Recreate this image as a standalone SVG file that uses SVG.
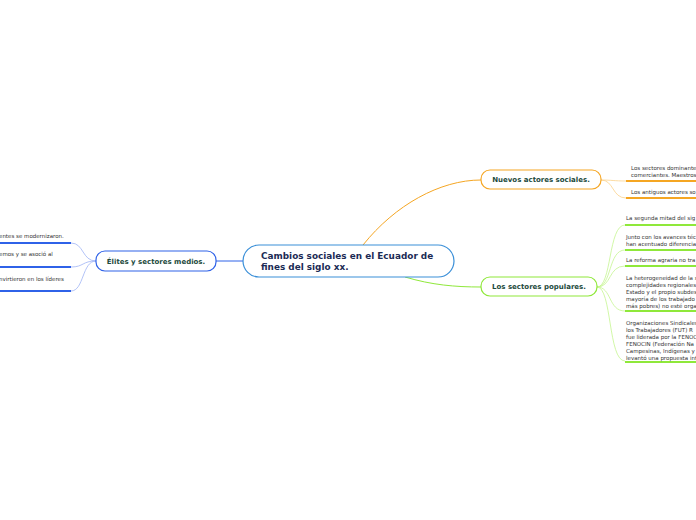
<svg xmlns="http://www.w3.org/2000/svg" width="696" height="520" viewBox="0 0 696 520">
<style>
.bg{fill:#fff}
.leaf{font-family:"DejaVu Sans",Verdana,sans-serif;font-size:5.5px;fill:#333}
.title{font-family:"DejaVu Sans",Verdana,sans-serif;font-size:7px;font-weight:bold;fill:#1d4a3c}
.ctitle{font-family:"DejaVu Sans",Verdana,sans-serif;font-size:8.9px;font-weight:bold;fill:#1b2b55}
.box{fill:#fff;stroke-width:1.2}
.c{fill:none}
.cb{stroke:#2f62e8;stroke-width:1}
.co{stroke:#f5a623;stroke-width:1}
.cg{stroke:#8fe83a;stroke-width:1}
.lb{stroke:#9fb4f5;stroke-width:0.8}
.lo{stroke:#fbd28a;stroke-width:0.8}
.lg{stroke:#c5f590;stroke-width:0.8}
.barb{stroke:#2f62e8;stroke-width:2}
.baro{stroke:#f5a623;stroke-width:2}
.barg{stroke:#8fe83a;stroke-width:2}
</style>
<rect class="bg" width="696" height="520"/>
<g id="connectors">
<path class="c cb" d="M243,261 L216,261"/>
<path class="c co" d="M363,245 C395,205 440,180 481,180"/>
<path class="c cg" d="M405,277 C432,285 455,287 481,287"/>
<path class="c lb" d="M96,261 C82,261 84,243 71,243"/>
<path class="c lb" d="M96,261 C82,261 84,267 71,267"/>
<path class="c lb" d="M96,261 C82,261 84,291 71,291"/>
<path class="c lo" d="M601,180 C612,180 614,181 626,181"/>
<path class="c lo" d="M601,180 C614,180 612,198 626,198"/>
<path class="c lg" d="M597,287 C612,287 608,225 625,225"/>
<path class="c lg" d="M597,287 C612,287 608,250 625,250"/>
<path class="c lg" d="M597,287 C612,287 608,266 625,266"/>
<path class="c lg" d="M597,287 C612,287 608,311 625,311"/>
<path class="c lg" d="M597,287 C612,287 608,361 625,361"/>
</g>
<g id="central">
<rect class="box" x="243" y="245" width="211" height="32" rx="16" stroke="#3a8fd8"/>
<text class="ctitle" x="261" y="259">Cambios sociales en el Ecuador de</text>
<text class="ctitle" x="261" y="270">fines del siglo xx.</text>
</g>
<g id="elites">
<rect class="box" x="96" y="251" width="120" height="20" rx="9" stroke="#2f62e8"/>
<text class="title" x="156" y="264" text-anchor="middle">Élites y sectores medios.</text>
</g>
<g id="elites-leaf1">
<path class="c barb" d="M0,243 H71"/>
<text class="leaf" x="-1" y="238">entes se modernizaron.</text>
</g>
<g id="elites-leaf2">
<path class="c barb" d="M0,267 H71"/>
<text class="leaf" x="-1" y="256">emos y se asoció al</text>
</g>
<g id="elites-leaf3">
<path class="c barb" d="M0,291 H71"/>
<text class="leaf" x="-1" y="281">nvirtieron en los líderes</text>
</g>
<g id="nuevos">
<rect class="box" x="481" y="170" width="120" height="19" rx="9" stroke="#f5a623"/>
<text class="title" x="541" y="182" text-anchor="middle">Nuevos actores sociales.</text>
</g>
<g id="nuevos-leaf1">
<path class="c baro" d="M626,181 H696"/>
<text class="leaf" x="631" y="170">Los sectores dominante</text>
<text class="leaf" x="631" y="177">comerciantes. Maestros</text>
</g>
<g id="nuevos-leaf2">
<path class="c baro" d="M626,198 H696"/>
<text class="leaf" x="631" y="194">Los antiguos actores so</text>
</g>
<g id="populares">
<rect class="box" x="481" y="277" width="116" height="19" rx="9" stroke="#8fe83a"/>
<text class="title" x="539" y="289" text-anchor="middle">Los sectores populares.</text>
</g>
<g id="pop-leaf1">
<path class="c barg" d="M625,225 H696"/>
<text class="leaf" x="626" y="220">La segunda mitad del sig</text>
</g>
<g id="pop-leaf2">
<path class="c barg" d="M625,250 H696"/>
<text class="leaf" x="626" y="239">Junto con los avances téc</text>
<text class="leaf" x="626" y="246">han acentuado diferencia</text>
</g>
<g id="pop-leaf3">
<path class="c barg" d="M625,266 H696"/>
<text class="leaf" x="626" y="262">La reforma agraria no tra</text>
</g>
<g id="pop-leaf4">
<path class="c barg" d="M625,311 H696"/>
<text class="leaf" x="626" y="280">La heterogeneidad de la s</text>
<text class="leaf" x="626" y="287">complejidades regionales</text>
<text class="leaf" x="626" y="294">Estado y el propio subdes</text>
<text class="leaf" x="626" y="301">mayoría de los trabajado</text>
<text class="leaf" x="626" y="308">más pobres) no esté orga</text>
</g>
<g id="pop-leaf5">
<path class="c barg" d="M625,362 H696"/>
<text class="leaf" x="626" y="325">Organizaciones Sindicales</text>
<text class="leaf" x="626" y="332">los Trabajadores (FUT) R</text>
<text class="leaf" x="626" y="339">fue liderada por la FENOC</text>
<text class="leaf" x="626" y="346">FENOCIN  (Federación Na</text>
<text class="leaf" x="626" y="353">Campesinas, Indígenas y</text>
<text class="leaf" x="626" y="359.5">levantó una propuesta int</text>
</g>
</svg>
